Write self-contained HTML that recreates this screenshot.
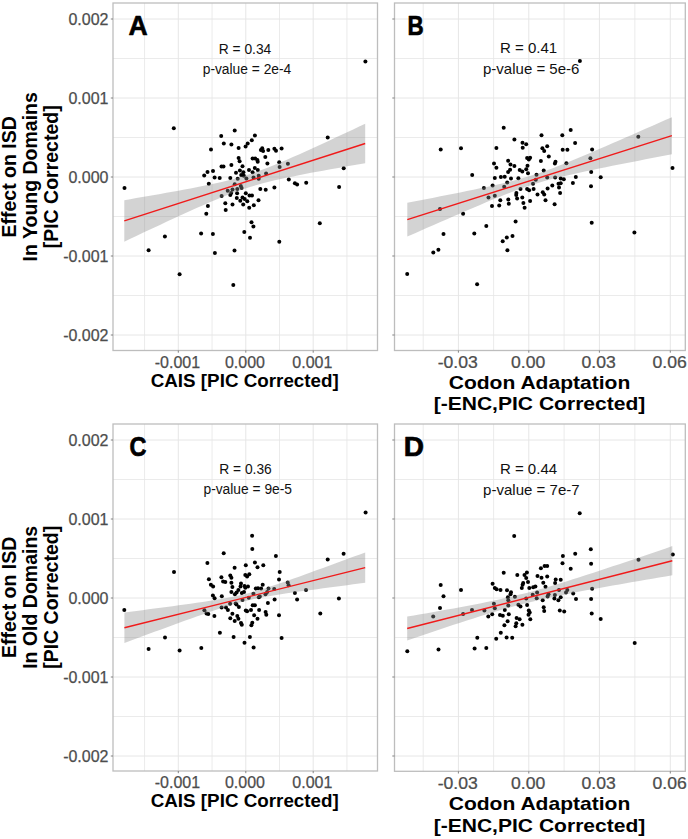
<!DOCTYPE html>
<html><head><meta charset="utf-8"><style>
html,body{margin:0;padding:0;background:#fff;width:688px;height:839px;overflow:hidden}
svg{display:block}
.tk{font-family:"Liberation Sans",sans-serif;font-size:16px;fill:#4D4D4D;stroke:#4D4D4D;stroke-width:0.25px}
.ttl{font-family:"Liberation Sans",sans-serif;font-size:19.2px;font-weight:bold;fill:#000}
.let{font-family:"Liberation Sans",sans-serif;font-size:28px;font-weight:bold;fill:#000;stroke:#000;stroke-width:0.7px;stroke-linejoin:round}
.ann{font-family:"Liberation Sans",sans-serif;font-size:13.8px;fill:#111}
</style></head><body>
<svg width="688" height="839" viewBox="0 0 688 839">
<rect width="688" height="839" fill="#fff"/>
<g>
<line x1="113" x2="377.5" y1="58.50" y2="58.50" stroke="#E6E6E6" stroke-width="0.8"/>
<line x1="113" x2="377.5" y1="137.50" y2="137.50" stroke="#E6E6E6" stroke-width="0.8"/>
<line x1="113" x2="377.5" y1="216.50" y2="216.50" stroke="#E6E6E6" stroke-width="0.8"/>
<line x1="113" x2="377.5" y1="295.50" y2="295.50" stroke="#E6E6E6" stroke-width="0.8"/>
<line y1="3" y2="350.5" x1="144.55" x2="144.55" stroke="#E6E6E6" stroke-width="0.8"/>
<line y1="3" y2="350.5" x1="212.05" x2="212.05" stroke="#E6E6E6" stroke-width="0.8"/>
<line y1="3" y2="350.5" x1="279.50" x2="279.50" stroke="#E6E6E6" stroke-width="0.8"/>
<line y1="3" y2="350.5" x1="346.95" x2="346.95" stroke="#E6E6E6" stroke-width="0.8"/>
<line x1="113" x2="377.5" y1="19.00" y2="19.00" stroke="#E6E6E6" stroke-width="1.0"/>
<line x1="113" x2="377.5" y1="98.00" y2="98.00" stroke="#E6E6E6" stroke-width="1.0"/>
<line x1="113" x2="377.5" y1="177.00" y2="177.00" stroke="#E6E6E6" stroke-width="1.0"/>
<line x1="113" x2="377.5" y1="256.00" y2="256.00" stroke="#E6E6E6" stroke-width="1.0"/>
<line x1="113" x2="377.5" y1="335.00" y2="335.00" stroke="#E6E6E6" stroke-width="1.0"/>
<line y1="3" y2="350.5" x1="178.30" x2="178.30" stroke="#E6E6E6" stroke-width="1.0"/>
<line y1="3" y2="350.5" x1="245.80" x2="245.80" stroke="#E6E6E6" stroke-width="1.0"/>
<line y1="3" y2="350.5" x1="313.20" x2="313.20" stroke="#E6E6E6" stroke-width="1.0"/>
<g fill="#000"><circle cx="234.7" cy="130.6" r="2.0"/><circle cx="221.2" cy="136" r="2.0"/><circle cx="223.8" cy="143.4" r="2.0"/><circle cx="231.4" cy="144.4" r="2.0"/><circle cx="238.6" cy="148.1" r="2.0"/><circle cx="245.6" cy="146.6" r="2.0"/><circle cx="247.7" cy="143.4" r="2.0"/><circle cx="251.8" cy="140.2" r="2.0"/><circle cx="254.9" cy="135.5" r="2.0"/><circle cx="211" cy="149.6" r="2.0"/><circle cx="238.6" cy="157.9" r="2.0"/><circle cx="239.6" cy="161.2" r="2.0"/><circle cx="221.5" cy="166.5" r="2.0"/><circle cx="223.5" cy="166.5" r="2.0"/><circle cx="231.4" cy="164.9" r="2.0"/><circle cx="242.5" cy="166.2" r="2.0"/><circle cx="207.5" cy="171.9" r="2.0"/><circle cx="213" cy="171" r="2.0"/><circle cx="204.2" cy="175.4" r="2.0"/><circle cx="214.6" cy="177.4" r="2.0"/><circle cx="219.7" cy="178" r="2.0"/><circle cx="230.3" cy="178" r="2.0"/><circle cx="236" cy="172.7" r="2.0"/><circle cx="239.9" cy="170.4" r="2.0"/><circle cx="243.4" cy="172.3" r="2.0"/><circle cx="241.2" cy="174.9" r="2.0"/><circle cx="243.8" cy="175.8" r="2.0"/><circle cx="249" cy="170.1" r="2.0"/><circle cx="237.7" cy="178.8" r="2.0"/><circle cx="262.2" cy="148.3" r="2.0"/><circle cx="260.9" cy="150.1" r="2.0"/><circle cx="263.1" cy="151" r="2.0"/><circle cx="268.3" cy="150.1" r="2.0"/><circle cx="274.4" cy="148.8" r="2.0"/><circle cx="276" cy="150.7" r="2.0"/><circle cx="281.6" cy="148.6" r="2.0"/><circle cx="265.3" cy="157.1" r="2.0"/><circle cx="252.6" cy="158.4" r="2.0"/><circle cx="255.2" cy="158.4" r="2.0"/><circle cx="257.4" cy="160.1" r="2.0"/><circle cx="257.7" cy="161.8" r="2.0"/><circle cx="267.4" cy="163.6" r="2.0"/><circle cx="279.2" cy="162.3" r="2.0"/><circle cx="279.6" cy="167.1" r="2.0"/><circle cx="287.9" cy="163.8" r="2.0"/><circle cx="254.8" cy="168" r="2.0"/><circle cx="257.8" cy="170.1" r="2.0"/><circle cx="252.6" cy="172.3" r="2.0"/><circle cx="266.1" cy="173.4" r="2.0"/><circle cx="258.7" cy="175.8" r="2.0"/><circle cx="253.5" cy="177.5" r="2.0"/><circle cx="258.7" cy="178.8" r="2.0"/><circle cx="288.8" cy="179.5" r="2.0"/><circle cx="246.4" cy="178.5" r="2.0"/><circle cx="208.8" cy="183.7" r="2.0"/><circle cx="234.7" cy="184.2" r="2.0"/><circle cx="240.8" cy="185.9" r="2.0"/><circle cx="241.6" cy="188.1" r="2.0"/><circle cx="227.7" cy="190.7" r="2.0"/><circle cx="232.5" cy="189.4" r="2.0"/><circle cx="237.3" cy="189" r="2.0"/><circle cx="231.2" cy="192.9" r="2.0"/><circle cx="230.3" cy="195.1" r="2.0"/><circle cx="237.1" cy="193.3" r="2.0"/><circle cx="245.8" cy="193.3" r="2.0"/><circle cx="221.6" cy="195.9" r="2.0"/><circle cx="249.5" cy="195.5" r="2.0"/><circle cx="252" cy="195.5" r="2.0"/><circle cx="236.8" cy="198.1" r="2.0"/><circle cx="242.5" cy="197.5" r="2.0"/><circle cx="244.7" cy="199" r="2.0"/><circle cx="240.3" cy="200.7" r="2.0"/><circle cx="247.3" cy="201.2" r="2.0"/><circle cx="225.3" cy="203.3" r="2.0"/><circle cx="232.5" cy="204.5" r="2.0"/><circle cx="243.2" cy="204.5" r="2.0"/><circle cx="253.8" cy="205.3" r="2.0"/><circle cx="207.9" cy="206" r="2.0"/><circle cx="249.2" cy="207.7" r="2.0"/><circle cx="225.7" cy="209.9" r="2.0"/><circle cx="206.3" cy="213.8" r="2.0"/><circle cx="251.5" cy="222.3" r="2.0"/><circle cx="253.4" cy="226.4" r="2.0"/><circle cx="201.1" cy="233.6" r="2.0"/><circle cx="212.9" cy="234.1" r="2.0"/><circle cx="244.3" cy="232.1" r="2.0"/><circle cx="294.9" cy="183.3" r="2.0"/><circle cx="297.1" cy="184.4" r="2.0"/><circle cx="306.2" cy="182.8" r="2.0"/><circle cx="260.3" cy="189.1" r="2.0"/><circle cx="265.7" cy="189.8" r="2.0"/><circle cx="274.4" cy="187.6" r="2.0"/><circle cx="258.5" cy="200.3" r="2.0"/><circle cx="164.9" cy="236.5" r="2.0"/><circle cx="148.6" cy="250.2" r="2.0"/><circle cx="179.6" cy="274.3" r="2.0"/><circle cx="250" cy="237.7" r="2.0"/><circle cx="214.9" cy="252.9" r="2.0"/><circle cx="234.5" cy="250.5" r="2.0"/><circle cx="233.3" cy="285.1" r="2.0"/><circle cx="279.3" cy="241.7" r="2.0"/><circle cx="319.8" cy="223.3" r="2.0"/><circle cx="124.5" cy="188" r="2.0"/><circle cx="173.8" cy="128.2" r="2.0"/><circle cx="365.4" cy="61.6" r="2.0"/><circle cx="327.7" cy="137.4" r="2.0"/><circle cx="343.7" cy="168.2" r="2.0"/><circle cx="339.1" cy="187.1" r="2.0"/></g>
<polygon points="124.30,200.17 130.32,199.14 136.34,198.11 142.37,197.07 148.39,196.03 154.41,194.98 160.44,193.92 166.46,192.84 172.48,191.76 178.50,190.66 184.53,189.54 190.55,188.40 196.57,187.24 202.59,186.03 208.61,184.79 214.64,183.49 220.66,182.13 226.68,180.68 232.70,179.14 238.73,177.48 244.75,175.69 250.77,173.76 256.79,171.69 262.82,169.49 268.84,167.17 274.86,164.76 280.88,162.25 286.91,159.69 292.93,157.06 298.95,154.40 304.97,151.70 311.00,148.97 317.02,146.22 323.04,143.45 329.06,140.67 335.09,137.87 341.11,135.06 347.13,132.24 353.15,129.42 359.18,126.59 365.20,123.75 365.20,163.25 359.18,164.28 353.15,165.32 347.13,166.37 341.11,167.42 335.09,168.48 329.06,169.55 323.04,170.64 317.02,171.74 311.00,172.86 304.97,174.00 298.95,175.17 292.93,176.38 286.91,177.62 280.88,178.93 274.86,180.29 268.84,181.75 262.82,183.30 256.79,184.97 250.77,186.77 244.75,188.71 238.73,190.79 232.70,193.00 226.68,195.33 220.66,197.75 214.64,200.26 208.61,202.83 202.59,205.46 196.57,208.12 190.55,210.83 184.53,213.56 178.50,216.31 172.48,219.08 166.46,221.87 160.44,224.66 154.41,227.47 148.39,230.29 142.37,233.12 136.34,235.95 130.32,238.79 124.30,241.63" fill="#8C8C8C" fill-opacity="0.38"/>
<line x1="124.3" y1="220.9" x2="365.2" y2="143.5" stroke="#F01A1A" stroke-width="1.4"/>
<rect x="113" y="3" width="264.5" height="347.5" fill="none" stroke="#BDBDBD" stroke-width="1.3"/>
<line x1="110.8" x2="113" y1="19" y2="19" stroke="#777" stroke-width="0.9"/><line x1="110.8" x2="113" y1="98" y2="98" stroke="#777" stroke-width="0.9"/><line x1="110.8" x2="113" y1="177" y2="177" stroke="#777" stroke-width="0.9"/><line x1="110.8" x2="113" y1="256" y2="256" stroke="#777" stroke-width="0.9"/><line x1="110.8" x2="113" y1="335" y2="335" stroke="#777" stroke-width="0.9"/><line y1="350.5" y2="352.7" x1="178.3" x2="178.3" stroke="#777" stroke-width="0.9"/><line y1="350.5" y2="352.7" x1="245.8" x2="245.8" stroke="#777" stroke-width="0.9"/><line y1="350.5" y2="352.7" x1="313.2" x2="313.2" stroke="#777" stroke-width="0.9"/>
<text x="108.5" y="25.3" text-anchor="end" class="tk">0.002</text>
<text x="108.5" y="104.3" text-anchor="end" class="tk">0.001</text>
<text x="108.5" y="183.3" text-anchor="end" class="tk">0.000</text>
<text x="108.5" y="262.3" text-anchor="end" class="tk">-0.001</text>
<text x="108.5" y="341.3" text-anchor="end" class="tk">-0.002</text>
<text transform="translate(177.4,367.7) scale(1.0,1)" text-anchor="middle" class="tk">-0.001</text>
<text transform="translate(244.9,367.7) scale(1.0,1)" text-anchor="middle" class="tk">0.000</text>
<text transform="translate(312.3,367.7) scale(1.0,1)" text-anchor="middle" class="tk">0.001</text>
<text transform="translate(128.6,34.7) scale(0.95,1)" class="let">A</text>
<text transform="translate(245,53.6) scale(1.0,1)" text-anchor="middle" class="ann">R = 0.34</text>
<text transform="translate(247,73.6) scale(1.0,1)" text-anchor="middle" class="ann">p-value = 2e-4</text>
<text transform="translate(244.75,386.5) scale(0.98,1)" text-anchor="middle" class="ttl">CAIS [PIC Corrected]</text>
<line x1="394.5" x2="685.3" y1="58.50" y2="58.50" stroke="#E6E6E6" stroke-width="0.8"/>
<line x1="394.5" x2="685.3" y1="137.50" y2="137.50" stroke="#E6E6E6" stroke-width="0.8"/>
<line x1="394.5" x2="685.3" y1="216.50" y2="216.50" stroke="#E6E6E6" stroke-width="0.8"/>
<line x1="394.5" x2="685.3" y1="295.50" y2="295.50" stroke="#E6E6E6" stroke-width="0.8"/>
<line y1="3" y2="350.5" x1="423.20" x2="423.20" stroke="#E6E6E6" stroke-width="0.8"/>
<line y1="3" y2="350.5" x1="493.60" x2="493.60" stroke="#E6E6E6" stroke-width="0.8"/>
<line y1="3" y2="350.5" x1="564.10" x2="564.10" stroke="#E6E6E6" stroke-width="0.8"/>
<line y1="3" y2="350.5" x1="634.85" x2="634.85" stroke="#E6E6E6" stroke-width="0.8"/>
<line x1="394.5" x2="685.3" y1="19.00" y2="19.00" stroke="#E6E6E6" stroke-width="1.0"/>
<line x1="394.5" x2="685.3" y1="98.00" y2="98.00" stroke="#E6E6E6" stroke-width="1.0"/>
<line x1="394.5" x2="685.3" y1="177.00" y2="177.00" stroke="#E6E6E6" stroke-width="1.0"/>
<line x1="394.5" x2="685.3" y1="256.00" y2="256.00" stroke="#E6E6E6" stroke-width="1.0"/>
<line x1="394.5" x2="685.3" y1="335.00" y2="335.00" stroke="#E6E6E6" stroke-width="1.0"/>
<line y1="3" y2="350.5" x1="458.40" x2="458.40" stroke="#E6E6E6" stroke-width="1.0"/>
<line y1="3" y2="350.5" x1="528.80" x2="528.80" stroke="#E6E6E6" stroke-width="1.0"/>
<line y1="3" y2="350.5" x1="599.40" x2="599.40" stroke="#E6E6E6" stroke-width="1.0"/>
<line y1="3" y2="350.5" x1="670.30" x2="670.30" stroke="#E6E6E6" stroke-width="1.0"/>
<g fill="#000"><circle cx="503.7" cy="127.8" r="2.0"/><circle cx="514.4" cy="139.6" r="2.0"/><circle cx="522.5" cy="142.8" r="2.0"/><circle cx="526.2" cy="144.2" r="2.0"/><circle cx="522.7" cy="147.7" r="2.0"/><circle cx="496.4" cy="148.1" r="2.0"/><circle cx="527.1" cy="157.9" r="2.0"/><circle cx="530.1" cy="157.7" r="2.0"/><circle cx="528.8" cy="159.4" r="2.0"/><circle cx="508.1" cy="160.8" r="2.0"/><circle cx="494" cy="163.6" r="2.0"/><circle cx="496.4" cy="167.8" r="2.0"/><circle cx="510.5" cy="164.5" r="2.0"/><circle cx="514.4" cy="166" r="2.0"/><circle cx="510.1" cy="169.7" r="2.0"/><circle cx="508.1" cy="171.9" r="2.0"/><circle cx="527.5" cy="165.8" r="2.0"/><circle cx="526.2" cy="169.3" r="2.0"/><circle cx="519.7" cy="170.1" r="2.0"/><circle cx="522.3" cy="171.4" r="2.0"/><circle cx="528" cy="173.2" r="2.0"/><circle cx="536.5" cy="174.8" r="2.0"/><circle cx="494.8" cy="178" r="2.0"/><circle cx="500.9" cy="177.1" r="2.0"/><circle cx="504.7" cy="176.7" r="2.0"/><circle cx="511" cy="178.6" r="2.0"/><circle cx="518.4" cy="178.2" r="2.0"/><circle cx="541.5" cy="135.3" r="2.0"/><circle cx="562.3" cy="135.3" r="2.0"/><circle cx="570.7" cy="130" r="2.0"/><circle cx="575.1" cy="143.1" r="2.0"/><circle cx="547.2" cy="146.2" r="2.0"/><circle cx="542.4" cy="148.3" r="2.0"/><circle cx="544.2" cy="150.9" r="2.0"/><circle cx="562.7" cy="149.8" r="2.0"/><circle cx="567.4" cy="149.8" r="2.0"/><circle cx="592.1" cy="149.6" r="2.0"/><circle cx="548.8" cy="156.4" r="2.0"/><circle cx="540.9" cy="161" r="2.0"/><circle cx="555.5" cy="161.8" r="2.0"/><circle cx="554.9" cy="163.4" r="2.0"/><circle cx="566.4" cy="163.2" r="2.0"/><circle cx="590.4" cy="158.2" r="2.0"/><circle cx="543.7" cy="170.6" r="2.0"/><circle cx="547.2" cy="177.5" r="2.0"/><circle cx="555.1" cy="177.5" r="2.0"/><circle cx="560.7" cy="178.6" r="2.0"/><circle cx="563.8" cy="179.3" r="2.0"/><circle cx="575.8" cy="177.1" r="2.0"/><circle cx="591.2" cy="171.9" r="2.0"/><circle cx="483.9" cy="187.9" r="2.0"/><circle cx="492.6" cy="185.6" r="2.0"/><circle cx="507.2" cy="182.4" r="2.0"/><circle cx="504.2" cy="186.8" r="2.0"/><circle cx="533" cy="183.7" r="2.0"/><circle cx="535.8" cy="179.8" r="2.0"/><circle cx="520.5" cy="189" r="2.0"/><circle cx="527.1" cy="189" r="2.0"/><circle cx="529.1" cy="190.3" r="2.0"/><circle cx="533.6" cy="189" r="2.0"/><circle cx="516.4" cy="192.9" r="2.0"/><circle cx="516.2" cy="195.1" r="2.0"/><circle cx="517.1" cy="198.5" r="2.0"/><circle cx="522.3" cy="197.5" r="2.0"/><circle cx="537.5" cy="194.6" r="2.0"/><circle cx="488.5" cy="197.5" r="2.0"/><circle cx="494.8" cy="195.8" r="2.0"/><circle cx="500.3" cy="200.3" r="2.0"/><circle cx="508.3" cy="199.6" r="2.0"/><circle cx="508.8" cy="203.8" r="2.0"/><circle cx="523.4" cy="203.1" r="2.0"/><circle cx="530.1" cy="201" r="2.0"/><circle cx="492" cy="205.9" r="2.0"/><circle cx="499.2" cy="205.5" r="2.0"/><circle cx="524.6" cy="207.7" r="2.0"/><circle cx="515.6" cy="221.6" r="2.0"/><circle cx="486.3" cy="226" r="2.0"/><circle cx="512.5" cy="236.1" r="2.0"/><circle cx="572.9" cy="183" r="2.0"/><circle cx="558.5" cy="183.7" r="2.0"/><circle cx="560.7" cy="183.3" r="2.0"/><circle cx="559" cy="187.6" r="2.0"/><circle cx="552.3" cy="185.6" r="2.0"/><circle cx="547.6" cy="188.5" r="2.0"/><circle cx="542.8" cy="192.3" r="2.0"/><circle cx="544.2" cy="194.6" r="2.0"/><circle cx="560.1" cy="193" r="2.0"/><circle cx="545.5" cy="200.3" r="2.0"/><circle cx="554.6" cy="204.2" r="2.0"/><circle cx="591" cy="186.2" r="2.0"/><circle cx="591.7" cy="222.8" r="2.0"/><circle cx="440.7" cy="149.4" r="2.0"/><circle cx="461" cy="148.3" r="2.0"/><circle cx="472.2" cy="175.1" r="2.0"/><circle cx="440" cy="209.1" r="2.0"/><circle cx="463.1" cy="213.7" r="2.0"/><circle cx="443.5" cy="234" r="2.0"/><circle cx="474.3" cy="233.4" r="2.0"/><circle cx="433.3" cy="252.5" r="2.0"/><circle cx="438.4" cy="249.7" r="2.0"/><circle cx="502.7" cy="241.2" r="2.0"/><circle cx="506.8" cy="237.4" r="2.0"/><circle cx="507.4" cy="250.2" r="2.0"/><circle cx="407.2" cy="273.9" r="2.0"/><circle cx="477.1" cy="284.3" r="2.0"/><circle cx="600.7" cy="177.3" r="2.0"/><circle cx="638.3" cy="136.7" r="2.0"/><circle cx="672.5" cy="167.9" r="2.0"/><circle cx="634.4" cy="232.4" r="2.0"/><circle cx="579.9" cy="60.9" r="2.0"/></g>
<polygon points="407.30,202.83 413.92,201.55 420.53,200.26 427.14,198.97 433.76,197.67 440.38,196.37 446.99,195.06 453.61,193.74 460.22,192.41 466.83,191.06 473.45,189.70 480.06,188.31 486.68,186.90 493.30,185.45 499.91,183.95 506.52,182.38 513.14,180.74 519.75,178.99 526.37,177.11 532.99,175.09 539.60,172.91 546.22,170.59 552.83,168.14 559.44,165.59 566.06,162.95 572.67,160.25 579.29,157.50 585.90,154.71 592.52,151.90 599.13,149.06 605.75,146.21 612.37,143.34 618.98,140.46 625.60,137.57 632.21,134.68 638.82,131.77 645.44,128.87 652.05,125.95 658.67,123.04 665.28,120.12 671.90,117.19 671.90,154.21 665.28,155.48 658.67,156.76 652.05,158.05 645.44,159.33 638.82,160.63 632.21,161.92 625.60,163.23 618.98,164.54 612.37,165.86 605.75,167.19 599.13,168.54 592.52,169.90 585.90,171.29 579.29,172.70 572.67,174.15 566.06,175.65 559.44,177.21 552.83,178.86 546.22,180.61 539.60,182.49 532.99,184.51 526.37,186.69 519.75,189.01 513.14,191.46 506.52,194.02 499.91,196.65 493.30,199.35 486.68,202.10 480.06,204.89 473.45,207.70 466.83,210.54 460.22,213.39 453.61,216.26 446.99,219.14 440.38,222.03 433.76,224.93 427.14,227.83 420.53,230.74 413.92,233.65 407.30,236.57" fill="#8C8C8C" fill-opacity="0.38"/>
<line x1="407.3" y1="219.7" x2="671.9" y2="135.7" stroke="#F01A1A" stroke-width="1.4"/>
<rect x="394.5" y="3" width="290.79999999999995" height="347.5" fill="none" stroke="#BDBDBD" stroke-width="1.3"/>
<line x1="392.3" x2="394.5" y1="19" y2="19" stroke="#777" stroke-width="0.9"/><line x1="392.3" x2="394.5" y1="98" y2="98" stroke="#777" stroke-width="0.9"/><line x1="392.3" x2="394.5" y1="177" y2="177" stroke="#777" stroke-width="0.9"/><line x1="392.3" x2="394.5" y1="256" y2="256" stroke="#777" stroke-width="0.9"/><line x1="392.3" x2="394.5" y1="335" y2="335" stroke="#777" stroke-width="0.9"/><line y1="350.5" y2="352.7" x1="458.4" x2="458.4" stroke="#777" stroke-width="0.9"/><line y1="350.5" y2="352.7" x1="528.8" x2="528.8" stroke="#777" stroke-width="0.9"/><line y1="350.5" y2="352.7" x1="599.4" x2="599.4" stroke="#777" stroke-width="0.9"/><line y1="350.5" y2="352.7" x1="670.3" x2="670.3" stroke="#777" stroke-width="0.9"/>
<text transform="translate(457.7,367.7) scale(1.1,1)" text-anchor="middle" class="tk">-0.03</text>
<text transform="translate(528.0999999999999,367.7) scale(1.1,1)" text-anchor="middle" class="tk">0.00</text>
<text transform="translate(598.6999999999999,367.7) scale(1.1,1)" text-anchor="middle" class="tk">0.03</text>
<text transform="translate(669.5999999999999,367.7) scale(1.1,1)" text-anchor="middle" class="tk">0.06</text>
<text transform="translate(407.5,34.6) scale(0.8,1)" class="let">B</text>
<text transform="translate(528.6,53.4) scale(1.09,1)" text-anchor="middle" class="ann">R = 0.41</text>
<text transform="translate(531.2,73.8) scale(1.09,1)" text-anchor="middle" class="ann">p-value = 5e-6</text>
<text transform="translate(539.5,389.2) scale(1.097,1)" text-anchor="middle" class="ttl">Codon Adaptation</text>
<text transform="translate(539.5,410.4) scale(1.097,1)" text-anchor="middle" class="ttl">[-ENC,PIC Corrected]</text>
<line x1="113" x2="377.5" y1="479.50" y2="479.50" stroke="#E6E6E6" stroke-width="0.8"/>
<line x1="113" x2="377.5" y1="558.50" y2="558.50" stroke="#E6E6E6" stroke-width="0.8"/>
<line x1="113" x2="377.5" y1="637.50" y2="637.50" stroke="#E6E6E6" stroke-width="0.8"/>
<line x1="113" x2="377.5" y1="716.50" y2="716.50" stroke="#E6E6E6" stroke-width="0.8"/>
<line y1="424" y2="771" x1="144.55" x2="144.55" stroke="#E6E6E6" stroke-width="0.8"/>
<line y1="424" y2="771" x1="212.05" x2="212.05" stroke="#E6E6E6" stroke-width="0.8"/>
<line y1="424" y2="771" x1="279.50" x2="279.50" stroke="#E6E6E6" stroke-width="0.8"/>
<line y1="424" y2="771" x1="346.95" x2="346.95" stroke="#E6E6E6" stroke-width="0.8"/>
<line x1="113" x2="377.5" y1="440.00" y2="440.00" stroke="#E6E6E6" stroke-width="1.0"/>
<line x1="113" x2="377.5" y1="519.00" y2="519.00" stroke="#E6E6E6" stroke-width="1.0"/>
<line x1="113" x2="377.5" y1="598.00" y2="598.00" stroke="#E6E6E6" stroke-width="1.0"/>
<line x1="113" x2="377.5" y1="677.00" y2="677.00" stroke="#E6E6E6" stroke-width="1.0"/>
<line x1="113" x2="377.5" y1="756.00" y2="756.00" stroke="#E6E6E6" stroke-width="1.0"/>
<line y1="424" y2="771" x1="178.30" x2="178.30" stroke="#E6E6E6" stroke-width="1.0"/>
<line y1="424" y2="771" x1="245.80" x2="245.80" stroke="#E6E6E6" stroke-width="1.0"/>
<line y1="424" y2="771" x1="313.20" x2="313.20" stroke="#E6E6E6" stroke-width="1.0"/>
<g fill="#000"><circle cx="252.1" cy="535.7" r="2.0"/><circle cx="252.3" cy="548.9" r="2.0"/><circle cx="223.7" cy="553.3" r="2.0"/><circle cx="207.4" cy="563.1" r="2.0"/><circle cx="245.8" cy="565.2" r="2.0"/><circle cx="254.9" cy="562.4" r="2.0"/><circle cx="257.5" cy="567.2" r="2.0"/><circle cx="234.6" cy="567.8" r="2.0"/><circle cx="230.3" cy="575.5" r="2.0"/><circle cx="231.4" cy="577.7" r="2.0"/><circle cx="245.3" cy="575.1" r="2.0"/><circle cx="249.3" cy="574.2" r="2.0"/><circle cx="247.1" cy="576.4" r="2.0"/><circle cx="221.4" cy="577.3" r="2.0"/><circle cx="208.9" cy="579.3" r="2.0"/><circle cx="223.1" cy="581.4" r="2.0"/><circle cx="225.3" cy="582.1" r="2.0"/><circle cx="231.4" cy="582.7" r="2.0"/><circle cx="210.9" cy="584.7" r="2.0"/><circle cx="213.1" cy="586.4" r="2.0"/><circle cx="232.4" cy="587" r="2.0"/><circle cx="241" cy="583.4" r="2.0"/><circle cx="240.5" cy="586.4" r="2.0"/><circle cx="244.5" cy="586" r="2.0"/><circle cx="248" cy="586.4" r="2.0"/><circle cx="245.3" cy="587.7" r="2.0"/><circle cx="255.8" cy="588.6" r="2.0"/><circle cx="258" cy="588.2" r="2.0"/><circle cx="238.4" cy="589.9" r="2.0"/><circle cx="231.4" cy="592.1" r="2.0"/><circle cx="236.6" cy="592.5" r="2.0"/><circle cx="234.9" cy="594.3" r="2.0"/><circle cx="241.8" cy="593" r="2.0"/><circle cx="244" cy="592.1" r="2.0"/><circle cx="212.9" cy="595.6" r="2.0"/><circle cx="214.6" cy="598.2" r="2.0"/><circle cx="221.8" cy="596.3" r="2.0"/><circle cx="253.4" cy="593.8" r="2.0"/><circle cx="242.5" cy="599.9" r="2.0"/><circle cx="248.8" cy="597.7" r="2.0"/><circle cx="258.8" cy="597.3" r="2.0"/><circle cx="230.1" cy="603.8" r="2.0"/><circle cx="235.7" cy="603.4" r="2.0"/><circle cx="275.9" cy="555.9" r="2.0"/><circle cx="263.3" cy="565.2" r="2.0"/><circle cx="279.7" cy="572" r="2.0"/><circle cx="279" cy="579.4" r="2.0"/><circle cx="287.7" cy="582.5" r="2.0"/><circle cx="288.6" cy="585.3" r="2.0"/><circle cx="262.7" cy="584.7" r="2.0"/><circle cx="261.1" cy="588.6" r="2.0"/><circle cx="268.5" cy="588.6" r="2.0"/><circle cx="274.2" cy="589" r="2.0"/><circle cx="267.2" cy="592.1" r="2.0"/><circle cx="265.5" cy="594.3" r="2.0"/><circle cx="306" cy="589.9" r="2.0"/><circle cx="294.9" cy="593.1" r="2.0"/><circle cx="259.8" cy="596.4" r="2.0"/><circle cx="274.6" cy="599.5" r="2.0"/><circle cx="297.1" cy="599.5" r="2.0"/><circle cx="267.9" cy="603" r="2.0"/><circle cx="236.5" cy="604.5" r="2.0"/><circle cx="238.9" cy="606.9" r="2.0"/><circle cx="204.4" cy="610.3" r="2.0"/><circle cx="206.5" cy="613.5" r="2.0"/><circle cx="208.3" cy="614.1" r="2.0"/><circle cx="214.4" cy="616.1" r="2.0"/><circle cx="221.6" cy="607.4" r="2.0"/><circle cx="226" cy="607.4" r="2.0"/><circle cx="227.9" cy="610" r="2.0"/><circle cx="232.4" cy="613.8" r="2.0"/><circle cx="230.3" cy="618.3" r="2.0"/><circle cx="234.7" cy="621.1" r="2.0"/><circle cx="237.3" cy="616.1" r="2.0"/><circle cx="238.4" cy="618.7" r="2.0"/><circle cx="241" cy="623.1" r="2.0"/><circle cx="241.8" cy="624.8" r="2.0"/><circle cx="245.8" cy="610.5" r="2.0"/><circle cx="247.1" cy="611.3" r="2.0"/><circle cx="251" cy="610" r="2.0"/><circle cx="252.7" cy="605.2" r="2.0"/><circle cx="254.9" cy="605.2" r="2.0"/><circle cx="259.1" cy="610" r="2.0"/><circle cx="254.1" cy="615.3" r="2.0"/><circle cx="257.5" cy="618.7" r="2.0"/><circle cx="252.3" cy="622.8" r="2.0"/><circle cx="251.4" cy="625.3" r="2.0"/><circle cx="219.9" cy="632.7" r="2.0"/><circle cx="233.6" cy="636.9" r="2.0"/><circle cx="249.9" cy="636.9" r="2.0"/><circle cx="244.5" cy="642.7" r="2.0"/><circle cx="253.6" cy="647.5" r="2.0"/><circle cx="201.3" cy="648" r="2.0"/><circle cx="265.6" cy="612" r="2.0"/><circle cx="266.3" cy="614.8" r="2.0"/><circle cx="279" cy="615.3" r="2.0"/><circle cx="281.6" cy="637.9" r="2.0"/><circle cx="174" cy="572.1" r="2.0"/><circle cx="124.3" cy="609.9" r="2.0"/><circle cx="165" cy="637.5" r="2.0"/><circle cx="148.6" cy="649.1" r="2.0"/><circle cx="179.6" cy="650.6" r="2.0"/><circle cx="365.6" cy="512.6" r="2.0"/><circle cx="343.6" cy="553.8" r="2.0"/><circle cx="327.7" cy="559.5" r="2.0"/><circle cx="338.9" cy="598.4" r="2.0"/><circle cx="320.3" cy="613.5" r="2.0"/></g>
<polygon points="124.40,612.49 130.42,611.70 136.44,610.92 142.46,610.13 148.48,609.34 154.50,608.54 160.52,607.74 166.54,606.94 172.56,606.13 178.58,605.31 184.60,604.48 190.62,603.64 196.64,602.78 202.66,601.91 208.68,601.00 214.70,600.06 220.72,599.07 226.74,598.01 232.76,596.86 238.78,595.58 244.80,594.16 250.82,592.59 256.84,590.87 262.86,589.02 268.88,587.08 274.90,585.07 280.92,583.01 286.94,580.91 292.96,578.79 298.98,576.64 305.00,574.47 311.02,572.30 317.04,570.11 323.06,567.92 329.08,565.72 335.10,563.51 341.12,561.30 347.14,559.09 353.16,556.87 359.18,554.65 365.20,552.43 365.20,582.77 359.18,583.55 353.16,584.34 347.14,585.13 341.12,585.92 335.10,586.71 329.08,587.51 323.06,588.32 317.04,589.13 311.02,589.95 305.00,590.78 298.98,591.62 292.96,592.47 286.94,593.35 280.92,594.26 274.90,595.20 268.88,596.20 262.86,597.26 256.84,598.42 250.82,599.71 244.80,601.14 238.78,602.72 232.76,604.45 226.74,606.30 220.72,608.25 214.70,610.26 208.68,612.33 202.66,614.43 196.64,616.56 190.62,618.71 184.60,620.87 178.58,623.05 172.56,625.23 166.54,627.43 160.52,629.63 154.50,631.83 148.48,634.04 142.46,636.26 136.44,638.47 130.42,640.69 124.40,642.91" fill="#8C8C8C" fill-opacity="0.38"/>
<line x1="124.4" y1="627.7" x2="365.2" y2="567.6" stroke="#F01A1A" stroke-width="1.4"/>
<rect x="113" y="424" width="264.5" height="347" fill="none" stroke="#BDBDBD" stroke-width="1.3"/>
<line x1="110.8" x2="113" y1="440" y2="440" stroke="#777" stroke-width="0.9"/><line x1="110.8" x2="113" y1="519" y2="519" stroke="#777" stroke-width="0.9"/><line x1="110.8" x2="113" y1="598" y2="598" stroke="#777" stroke-width="0.9"/><line x1="110.8" x2="113" y1="677" y2="677" stroke="#777" stroke-width="0.9"/><line x1="110.8" x2="113" y1="756" y2="756" stroke="#777" stroke-width="0.9"/><line y1="771" y2="773.2" x1="178.3" x2="178.3" stroke="#777" stroke-width="0.9"/><line y1="771" y2="773.2" x1="245.8" x2="245.8" stroke="#777" stroke-width="0.9"/><line y1="771" y2="773.2" x1="313.2" x2="313.2" stroke="#777" stroke-width="0.9"/>
<text x="108.5" y="446.3" text-anchor="end" class="tk">0.002</text>
<text x="108.5" y="525.3" text-anchor="end" class="tk">0.001</text>
<text x="108.5" y="604.3" text-anchor="end" class="tk">0.000</text>
<text x="108.5" y="683.3" text-anchor="end" class="tk">-0.001</text>
<text x="108.5" y="762.3" text-anchor="end" class="tk">-0.002</text>
<text transform="translate(177.4,788.2) scale(1.0,1)" text-anchor="middle" class="tk">-0.001</text>
<text transform="translate(244.9,788.2) scale(1.0,1)" text-anchor="middle" class="tk">0.000</text>
<text transform="translate(312.3,788.2) scale(1.0,1)" text-anchor="middle" class="tk">0.001</text>
<text transform="translate(129.5,455.6) scale(0.84,1)" class="let">C</text>
<text transform="translate(245.5,474.2) scale(1.0,1)" text-anchor="middle" class="ann">R = 0.36</text>
<text transform="translate(247.75,494.4) scale(1.0,1)" text-anchor="middle" class="ann">p-value = 9e-5</text>
<text transform="translate(244.75,806.6) scale(0.98,1)" text-anchor="middle" class="ttl">CAIS [PIC Corrected]</text>
<line x1="394.5" x2="685.3" y1="479.50" y2="479.50" stroke="#E6E6E6" stroke-width="0.8"/>
<line x1="394.5" x2="685.3" y1="558.50" y2="558.50" stroke="#E6E6E6" stroke-width="0.8"/>
<line x1="394.5" x2="685.3" y1="637.50" y2="637.50" stroke="#E6E6E6" stroke-width="0.8"/>
<line x1="394.5" x2="685.3" y1="716.50" y2="716.50" stroke="#E6E6E6" stroke-width="0.8"/>
<line y1="424" y2="771.3" x1="423.20" x2="423.20" stroke="#E6E6E6" stroke-width="0.8"/>
<line y1="424" y2="771.3" x1="493.60" x2="493.60" stroke="#E6E6E6" stroke-width="0.8"/>
<line y1="424" y2="771.3" x1="564.10" x2="564.10" stroke="#E6E6E6" stroke-width="0.8"/>
<line y1="424" y2="771.3" x1="634.85" x2="634.85" stroke="#E6E6E6" stroke-width="0.8"/>
<line x1="394.5" x2="685.3" y1="440.00" y2="440.00" stroke="#E6E6E6" stroke-width="1.0"/>
<line x1="394.5" x2="685.3" y1="519.00" y2="519.00" stroke="#E6E6E6" stroke-width="1.0"/>
<line x1="394.5" x2="685.3" y1="598.00" y2="598.00" stroke="#E6E6E6" stroke-width="1.0"/>
<line x1="394.5" x2="685.3" y1="677.00" y2="677.00" stroke="#E6E6E6" stroke-width="1.0"/>
<line x1="394.5" x2="685.3" y1="756.00" y2="756.00" stroke="#E6E6E6" stroke-width="1.0"/>
<line y1="424" y2="771.3" x1="458.40" x2="458.40" stroke="#E6E6E6" stroke-width="1.0"/>
<line y1="424" y2="771.3" x1="528.80" x2="528.80" stroke="#E6E6E6" stroke-width="1.0"/>
<line y1="424" y2="771.3" x1="599.40" x2="599.40" stroke="#E6E6E6" stroke-width="1.0"/>
<line y1="424" y2="771.3" x1="670.30" x2="670.30" stroke="#E6E6E6" stroke-width="1.0"/>
<g fill="#000"><circle cx="503.7" cy="572.7" r="2.0"/><circle cx="517.3" cy="574.9" r="2.0"/><circle cx="526.9" cy="572.4" r="2.0"/><circle cx="524.5" cy="574.9" r="2.0"/><circle cx="526.2" cy="578.1" r="2.0"/><circle cx="537.5" cy="575.9" r="2.0"/><circle cx="492.6" cy="583.8" r="2.0"/><circle cx="494.8" cy="588.1" r="2.0"/><circle cx="496.6" cy="589.2" r="2.0"/><circle cx="500.5" cy="590" r="2.0"/><circle cx="507" cy="590.3" r="2.0"/><circle cx="511" cy="592.3" r="2.0"/><circle cx="510.5" cy="594.2" r="2.0"/><circle cx="514.9" cy="596.7" r="2.0"/><circle cx="507.9" cy="597.3" r="2.0"/><circle cx="508.3" cy="600.2" r="2.0"/><circle cx="523.2" cy="582.9" r="2.0"/><circle cx="528" cy="582" r="2.0"/><circle cx="522.6" cy="584.8" r="2.0"/><circle cx="521.8" cy="588" r="2.0"/><circle cx="529.3" cy="588.1" r="2.0"/><circle cx="533.2" cy="587.3" r="2.0"/><circle cx="535.4" cy="586.6" r="2.0"/><circle cx="532.7" cy="594.7" r="2.0"/><circle cx="537.1" cy="592.5" r="2.0"/><circle cx="536.7" cy="598.2" r="2.0"/><circle cx="526.2" cy="598.6" r="2.0"/><circle cx="493.9" cy="603.8" r="2.0"/><circle cx="494.8" cy="608.2" r="2.0"/><circle cx="484.4" cy="610.4" r="2.0"/><circle cx="508.3" cy="605.6" r="2.0"/><circle cx="518.4" cy="604.7" r="2.0"/><circle cx="520.5" cy="606.4" r="2.0"/><circle cx="527.1" cy="605.1" r="2.0"/><circle cx="504.8" cy="610.1" r="2.0"/><circle cx="528.8" cy="610.4" r="2.0"/><circle cx="529.7" cy="612.5" r="2.0"/><circle cx="492.2" cy="614.3" r="2.0"/><circle cx="500" cy="615" r="2.0"/><circle cx="508.8" cy="614.3" r="2.0"/><circle cx="562.9" cy="556" r="2.0"/><circle cx="575.2" cy="553.7" r="2.0"/><circle cx="562.5" cy="563.3" r="2.0"/><circle cx="591.1" cy="563.7" r="2.0"/><circle cx="570.7" cy="568.8" r="2.0"/><circle cx="540.9" cy="568.3" r="2.0"/><circle cx="544.6" cy="565.9" r="2.0"/><circle cx="547.2" cy="565.9" r="2.0"/><circle cx="541.5" cy="577.8" r="2.0"/><circle cx="547.2" cy="576.4" r="2.0"/><circle cx="555.7" cy="579.4" r="2.0"/><circle cx="555.1" cy="582.9" r="2.0"/><circle cx="560.7" cy="579.8" r="2.0"/><circle cx="543.3" cy="582.7" r="2.0"/><circle cx="545.5" cy="586.8" r="2.0"/><circle cx="548.5" cy="594.2" r="2.0"/><circle cx="547.6" cy="596.4" r="2.0"/><circle cx="542.7" cy="600.2" r="2.0"/><circle cx="554.9" cy="595.1" r="2.0"/><circle cx="554.4" cy="598.6" r="2.0"/><circle cx="559" cy="589.9" r="2.0"/><circle cx="567.3" cy="589.9" r="2.0"/><circle cx="566" cy="592.5" r="2.0"/><circle cx="573.2" cy="593.4" r="2.0"/><circle cx="560.7" cy="597.3" r="2.0"/><circle cx="558.4" cy="600.2" r="2.0"/><circle cx="576" cy="599" r="2.0"/><circle cx="592.1" cy="588.8" r="2.0"/><circle cx="591.1" cy="599" r="2.0"/><circle cx="543.7" cy="607.3" r="2.0"/><circle cx="544.2" cy="611" r="2.0"/><circle cx="559.8" cy="610.6" r="2.0"/><circle cx="564.2" cy="611.5" r="2.0"/><circle cx="591.7" cy="613.4" r="2.0"/><circle cx="472" cy="610.1" r="2.0"/><circle cx="488.3" cy="616.4" r="2.0"/><circle cx="502.8" cy="615.7" r="2.0"/><circle cx="528.5" cy="614.7" r="2.0"/><circle cx="530.3" cy="619.2" r="2.0"/><circle cx="516.6" cy="618" r="2.0"/><circle cx="519.6" cy="619.2" r="2.0"/><circle cx="507.6" cy="621.3" r="2.0"/><circle cx="516.3" cy="623.3" r="2.0"/><circle cx="515.6" cy="626.2" r="2.0"/><circle cx="522.4" cy="624.8" r="2.0"/><circle cx="504.4" cy="625.3" r="2.0"/><circle cx="500.8" cy="632.7" r="2.0"/><circle cx="496.2" cy="638.8" r="2.0"/><circle cx="506.6" cy="637.4" r="2.0"/><circle cx="512.2" cy="637.8" r="2.0"/><circle cx="477.3" cy="637.8" r="2.0"/><circle cx="474.6" cy="648.5" r="2.0"/><circle cx="486.3" cy="647.9" r="2.0"/><circle cx="440.7" cy="584.9" r="2.0"/><circle cx="461" cy="590.1" r="2.0"/><circle cx="443.5" cy="596.2" r="2.0"/><circle cx="440" cy="608" r="2.0"/><circle cx="433.2" cy="616.5" r="2.0"/><circle cx="463.1" cy="614" r="2.0"/><circle cx="438.5" cy="649.6" r="2.0"/><circle cx="407.3" cy="651.2" r="2.0"/><circle cx="590.8" cy="549.2" r="2.0"/><circle cx="600.7" cy="618.9" r="2.0"/><circle cx="638.5" cy="559.7" r="2.0"/><circle cx="672.8" cy="554.4" r="2.0"/><circle cx="634.7" cy="643.1" r="2.0"/><circle cx="579.7" cy="513.2" r="2.0"/><circle cx="514.2" cy="536.1" r="2.0"/></g>
<polygon points="407.20,616.61 413.83,615.46 420.45,614.31 427.08,613.15 433.71,611.98 440.34,610.81 446.96,609.62 453.59,608.41 460.22,607.19 466.85,605.95 473.47,604.68 480.10,603.38 486.73,602.05 493.36,600.68 499.99,599.26 506.61,597.78 513.24,596.23 519.87,594.62 526.50,592.94 533.12,591.18 539.75,589.35 546.38,587.45 553.00,585.50 559.63,583.49 566.26,581.44 572.89,579.36 579.51,577.24 586.14,575.10 592.77,572.93 599.40,570.75 606.02,568.56 612.65,566.35 619.28,564.13 625.91,561.90 632.53,559.66 639.16,557.42 645.79,555.17 652.42,552.91 659.04,550.65 665.67,548.39 672.30,546.12 672.30,575.28 665.67,576.40 659.04,577.53 652.42,578.66 645.79,579.79 639.16,580.93 632.53,582.08 625.91,583.23 619.28,584.39 612.65,585.56 606.02,586.74 599.40,587.94 592.77,589.15 586.14,590.37 579.51,591.62 572.89,592.89 566.26,594.20 559.63,595.54 553.00,596.92 546.38,598.36 539.75,599.85 533.12,601.41 526.50,603.04 519.87,604.75 513.24,606.53 506.61,608.37 499.99,610.28 493.36,612.25 486.73,614.27 480.10,616.33 473.47,618.42 466.85,620.54 460.22,622.69 453.59,624.86 446.96,627.04 440.34,629.24 433.71,631.46 427.08,633.68 420.45,635.91 413.83,638.15 407.20,640.39" fill="#8C8C8C" fill-opacity="0.38"/>
<line x1="407.2" y1="628.5" x2="672.3" y2="560.7" stroke="#F01A1A" stroke-width="1.4"/>
<rect x="394.5" y="424" width="290.79999999999995" height="347.29999999999995" fill="none" stroke="#BDBDBD" stroke-width="1.3"/>
<line x1="392.3" x2="394.5" y1="440" y2="440" stroke="#777" stroke-width="0.9"/><line x1="392.3" x2="394.5" y1="519" y2="519" stroke="#777" stroke-width="0.9"/><line x1="392.3" x2="394.5" y1="598" y2="598" stroke="#777" stroke-width="0.9"/><line x1="392.3" x2="394.5" y1="677" y2="677" stroke="#777" stroke-width="0.9"/><line x1="392.3" x2="394.5" y1="756" y2="756" stroke="#777" stroke-width="0.9"/><line y1="771.3" y2="773.5" x1="458.4" x2="458.4" stroke="#777" stroke-width="0.9"/><line y1="771.3" y2="773.5" x1="528.8" x2="528.8" stroke="#777" stroke-width="0.9"/><line y1="771.3" y2="773.5" x1="599.4" x2="599.4" stroke="#777" stroke-width="0.9"/><line y1="771.3" y2="773.5" x1="670.3" x2="670.3" stroke="#777" stroke-width="0.9"/>
<text transform="translate(457.7,788.5) scale(1.1,1)" text-anchor="middle" class="tk">-0.03</text>
<text transform="translate(528.0999999999999,788.5) scale(1.1,1)" text-anchor="middle" class="tk">0.00</text>
<text transform="translate(598.6999999999999,788.5) scale(1.1,1)" text-anchor="middle" class="tk">0.03</text>
<text transform="translate(669.5999999999999,788.5) scale(1.1,1)" text-anchor="middle" class="tk">0.06</text>
<text transform="translate(403.8,455.5) scale(1.0,1)" class="let">D</text>
<text transform="translate(528.5,474.3) scale(1.09,1)" text-anchor="middle" class="ann">R = 0.44</text>
<text transform="translate(531.35,494.6) scale(1.09,1)" text-anchor="middle" class="ann">p-value = 7e-7</text>
<text transform="translate(539.5,809.9) scale(1.097,1)" text-anchor="middle" class="ttl">Codon Adaptation</text>
<text transform="translate(539.5,831.7) scale(1.097,1)" text-anchor="middle" class="ttl">[-ENC,PIC Corrected]</text>
<text transform="translate(16.3,176.8) rotate(-90)" text-anchor="middle" class="ttl" style="font-size:19.5px">Effect on ISD</text>
<text transform="translate(36.9,176.8) rotate(-90)" text-anchor="middle" class="ttl" style="font-size:19.5px">In Young Domains</text>
<text transform="translate(57.5,176.8) rotate(-90)" text-anchor="middle" class="ttl" style="font-size:19.5px">[PIC Corrected]</text>
<text transform="translate(16.3,597.3) rotate(-90)" text-anchor="middle" class="ttl" style="font-size:19.5px">Effect on ISD</text>
<text transform="translate(36.9,597.3) rotate(-90)" text-anchor="middle" class="ttl" style="font-size:19.5px">In Old Domains</text>
<text transform="translate(57.5,597.3) rotate(-90)" text-anchor="middle" class="ttl" style="font-size:19.5px">[PIC Corrected]</text>
</g>
</svg></body></html>
